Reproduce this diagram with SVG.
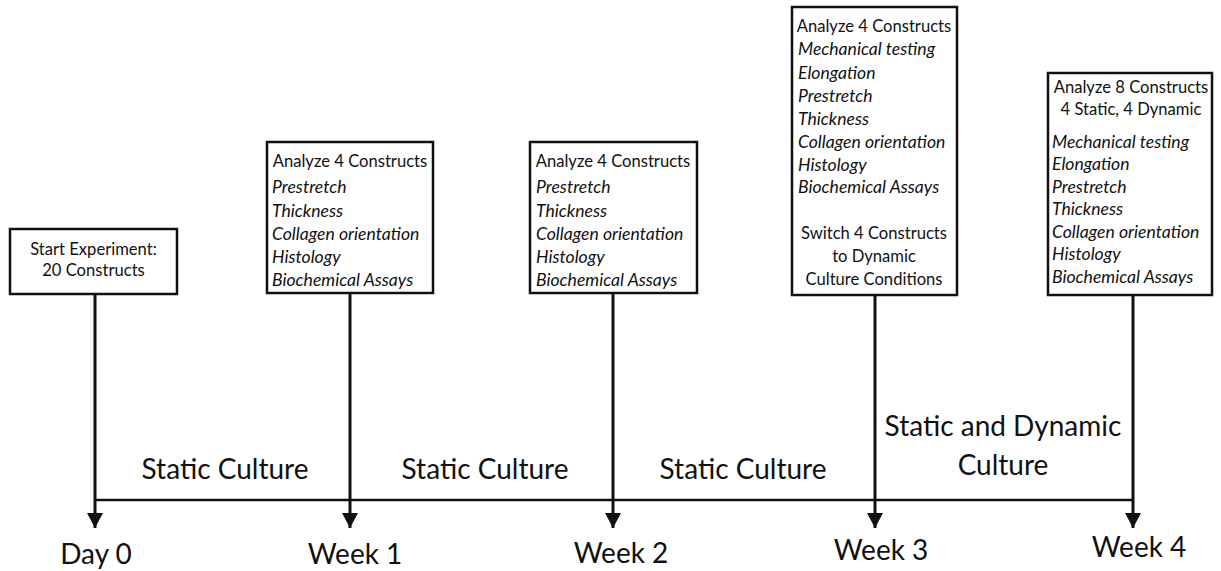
<svg xmlns="http://www.w3.org/2000/svg" width="1221" height="571" viewBox="0 0 1221 571">
<defs>
<marker id="arr" markerWidth="16" markerHeight="16" viewBox="0 0 16 16" refX="15" refY="8" orient="auto" markerUnits="userSpaceOnUse">
<path d="M0,0 L15,8 L0,16 Z" fill="#111"/>
</marker>
<style>
.box{fill:#fff;stroke:#111;stroke-width:2.5}
.ln{stroke:#111;stroke-width:3;fill:none}
.t{font-family:Lato,"Open Sans","Liberation Sans",sans-serif;font-size:16.6px;fill:#111}
.c{text-anchor:middle}
.i{font-style:italic;font-size:17.6px}
.big{font-family:Lato,"Open Sans","Liberation Sans",sans-serif;font-size:28px;fill:#111;text-anchor:middle}
</style>
</defs>
<rect width="1221" height="571" fill="#fff"/>
<g id="connectors">
<line class="ln" x1="94" y1="500" x2="1133" y2="500" style="stroke-width:2.5"/>
<line class="ln" x1="95" y1="294" x2="95" y2="528" marker-end="url(#arr)"/>
<line class="ln" x1="350" y1="293" x2="350" y2="528" marker-end="url(#arr)"/>
<line class="ln" x1="613" y1="293" x2="613" y2="528" marker-end="url(#arr)"/>
<line class="ln" x1="875" y1="295" x2="875" y2="528" marker-end="url(#arr)"/>
<line class="ln" x1="1133" y1="295" x2="1133" y2="528" marker-end="url(#arr)"/>
</g>
<g id="start">
<rect class="box" x="10" y="229" width="167" height="65"/>
<text class="t c" x="93.5" y="255">Start Experiment:</text>
<text class="t c" x="93.5" y="276">20 Constructs</text>
</g>
<g id="week1box">
<rect class="box" x="267" y="142" width="166" height="151"/>
<text class="t c" x="350" y="167">Analyze 4 Constructs</text>
<text class="t i" x="272" y="193">Prestretch</text>
<text class="t i" x="272" y="217">Thickness</text>
<text class="t i" x="272" y="240">Collagen orientation</text>
<text class="t i" x="272" y="263">Histology</text>
<text class="t i" x="272" y="286">Biochemical Assays</text>
</g>
<g id="week2box">
<rect class="box" x="530" y="142" width="167" height="151"/>
<text class="t c" x="613" y="167">Analyze 4 Constructs</text>
<text class="t i" x="536" y="193">Prestretch</text>
<text class="t i" x="536" y="217">Thickness</text>
<text class="t i" x="536" y="240">Collagen orientation</text>
<text class="t i" x="536" y="263">Histology</text>
<text class="t i" x="536" y="286">Biochemical Assays</text>
</g>
<g id="week3box">
<rect class="box" x="792" y="7" width="165" height="288"/>
<text class="t c" x="874" y="32">Analyze 4 Constructs</text>
<text class="t i" x="798" y="55">Mechanical testing</text>
<text class="t i" x="798" y="79">Elongation</text>
<text class="t i" x="798" y="102">Prestretch</text>
<text class="t i" x="798" y="125">Thickness</text>
<text class="t i" x="798" y="148">Collagen orientation</text>
<text class="t i" x="798" y="171">Histology</text>
<text class="t i" x="798" y="193">Biochemical Assays</text>
<text class="t c" x="874" y="239">Switch 4 Constructs</text>
<text class="t c" x="874" y="262">to Dynamic</text>
<text class="t c" x="874" y="285">Culture Conditions</text>
</g>
<g id="week4box">
<rect class="box" x="1048" y="73" width="164" height="222"/>
<text class="t c" x="1131" y="93">Analyze 8 Constructs</text>
<text class="t c" x="1131" y="115">4 Static, 4 Dynamic</text>
<text class="t i" x="1052" y="148">Mechanical testing</text>
<text class="t i" x="1052" y="170">Elongation</text>
<text class="t i" x="1052" y="193">Prestretch</text>
<text class="t i" x="1052" y="215">Thickness</text>
<text class="t i" x="1052" y="238">Collagen orientation</text>
<text class="t i" x="1052" y="260">Histology</text>
<text class="t i" x="1052" y="283">Biochemical Assays</text>
</g>
<g id="labels">
<text class="big" x="225" y="479">Static Culture</text>
<text class="big" x="485" y="479">Static Culture</text>
<text class="big" x="743" y="479">Static Culture</text>
<text class="big" x="1003" y="436">Static and Dynamic</text>
<text class="big" x="1003" y="475">Culture</text>
<text class="big" x="96" y="564">Day 0</text>
<text class="big" x="355" y="564">Week 1</text>
<text class="big" x="621" y="563">Week 2</text>
<text class="big" x="881" y="560">Week 3</text>
<text class="big" x="1139" y="557">Week 4</text>
</g>
</svg>
